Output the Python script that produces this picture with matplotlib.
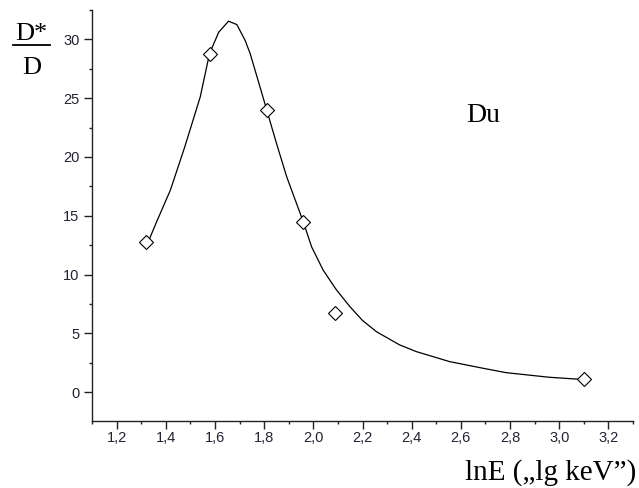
import matplotlib
matplotlib.use('Agg')
import matplotlib.pyplot as plt
from matplotlib.ticker import MultipleLocator, FuncFormatter

# measured points
lnE = [1.32, 1.58, 1.81, 1.96, 2.09, 3.10]
ratio = [12.8, 28.8, 24.0, 14.5, 6.7, 1.1]

# fitted curve, sampled
fitX = [1.32, 1.365, 1.419, 1.446, 1.477, 1.540, 1.578, 1.615, 1.655, 1.689,
        1.723, 1.743, 1.784, 1.811, 1.851, 1.892, 1.959, 1.993, 2.040, 2.094,
        2.149, 2.200, 2.257, 2.351, 2.419, 2.554, 2.689, 2.784, 2.959, 3.081,
        3.10]
fitY = [12.36, 14.6, 17.2, 18.9, 20.85, 25.1, 28.8, 30.6, 31.55, 31.26,
        29.9, 28.8, 25.9, 23.96, 21.1, 18.3, 14.5, 12.36, 10.38, 8.7,
        7.27, 6.1, 5.14, 4.02, 3.45, 2.60, 2.04, 1.66, 1.27, 1.10,
        1.05]

fig = plt.figure(figsize=(6.39, 4.88), dpi=100)
ax = fig.add_axes([0.144, 0.1373, 0.8466, 0.8422])

ax.plot(fitX, fitY, color='black', lw=0.9)
ax.plot(lnE, ratio, linestyle='none', marker='D', markersize=7,
        markerfacecolor='white', markeredgecolor='black', markeredgewidth=0.8)

ax.set_xlim(1.1, 3.3)
ax.set_ylim(-2.45, 32.5)

for s in ['top', 'right']:
    ax.spines[s].set_visible(False)
for s in ['left', 'bottom']:
    ax.spines[s].set_linewidth(1.0)
    ax.spines[s].set_color('#222222')

ax.xaxis.set_major_locator(MultipleLocator(0.2))
ax.xaxis.set_minor_locator(MultipleLocator(0.1))
ax.yaxis.set_major_locator(MultipleLocator(5))
ax.yaxis.set_minor_locator(MultipleLocator(2.5))
ax.xaxis.set_major_formatter(FuncFormatter(lambda v, p: ('%.1f' % v).replace('.', ',')))
ax.yaxis.set_major_formatter(FuncFormatter(lambda v, p: '%d' % round(v)))

ax.tick_params(which='major', direction='out', length=5.5, width=1.0, color='#222222',
               labelsize=10.5, labelcolor='#222233')
ax.tick_params(which='minor', direction='out', length=2.3, width=1.0, color='#222222')
ax.tick_params(axis='x', which='major', pad=1.5)
ax.tick_params(axis='y', which='major', pad=3.5)
for lab in ax.get_xticklabels() + ax.get_yticklabels():
    lab.set_family('Liberation Sans')

serif = 'Liberation Serif'
fig.text(0.049, 0.918, 'D*', fontsize=19, family=serif, ha='center', va='baseline')
fig.add_artist(plt.Line2D([0.021, 0.079], [0.908, 0.908], color='black', lw=1.3))
fig.text(0.050, 0.848, 'D', fontsize=19, family=serif, ha='center', va='baseline')
fig.text(0.756, 0.751, 'Du', fontsize=20, family=serif, ha='center', va='baseline')
fig.text(0.995, 0.018, 'lnE (\u201elg keV\u201d)', fontsize=21, family=serif,
         ha='right', va='baseline')

fig.savefig('out.png', dpi=100)
